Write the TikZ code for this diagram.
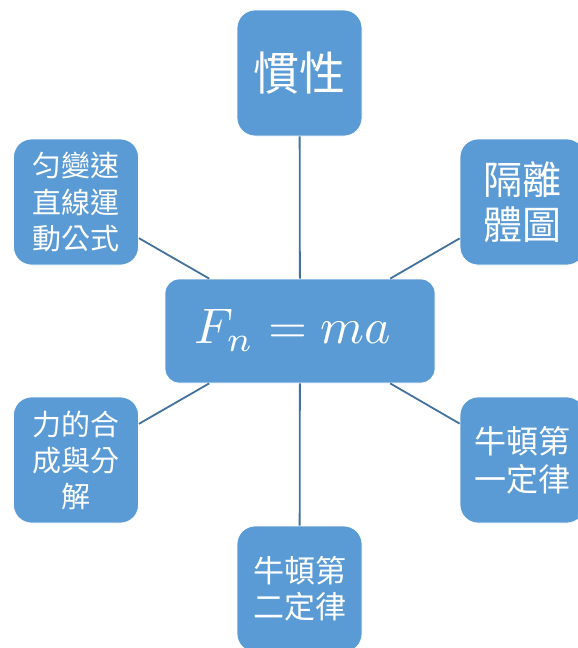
\documentclass[tikz,border=0pt]{standalone}
\usepackage{fontspec}
\usepackage{tikz}
\usetikzlibrary{positioning}
\newfontfamily\cjk{Noto Sans CJK TC}
\definecolor{BoxBlue}{HTML}{5B9BD5}
\definecolor{LineBlue}{HTML}{41719C}

\begin{document}
\begin{tikzpicture}[
  x=1pt,y=-1pt,
  sat/.style={draw=white,line width=0.8pt,fill=BoxBlue,rounded corners=18pt,minimum width=125pt,minimum height=126pt,inner sep=0pt,align=center,text=white,font=\cjk},
  hub/.style={draw=white,line width=0.8pt,fill=BoxBlue,rounded corners=14pt,minimum width=270pt,minimum height=104pt,inner sep=0pt,text=white},
  link/.style={draw=LineBlue,line width=1.8pt}
]
\useasboundingbox (0,0) rectangle (578,648);
\node[hub] (law) at (300,331) {\hspace*{-14pt}\raisebox{9pt}{\scalebox{5}{$F_n = ma$}}};
\node[sat,font=\cjk\fontsize{46}{50}\selectfont] (inertia) at (299.5,73) {慣性};
\node[sat,font=\cjk\fontsize{29}{36.5}\selectfont] (kinematics) at (76,202) {匀變速\\直線運\\動公式};
\node[sat,font=\cjk\fontsize{39}{45}\selectfont] (freebody) at (522.5,202) {隔離\\體圖};
\node[sat,font=\cjk\fontsize{29}{36}\selectfont] (forces) at (76,460) {力的合\\成與分\\解};
\node[sat,font=\cjk\fontsize{32}{38}\selectfont] (first) at (522.5,460) {牛頓第\\一定律};
\node[sat,font=\cjk\fontsize{31}{36}\selectfont] (second) at (299.5,589) {牛頓第\\二定律};
\draw[link] (law) -- (inertia);
\draw[link] (law) -- (kinematics);
\draw[link] (law) -- (freebody);
\draw[link] (law) -- (forces);
\draw[link] (law) -- (first);
\draw[link] (law) -- (second);
\end{tikzpicture}
\end{document}
